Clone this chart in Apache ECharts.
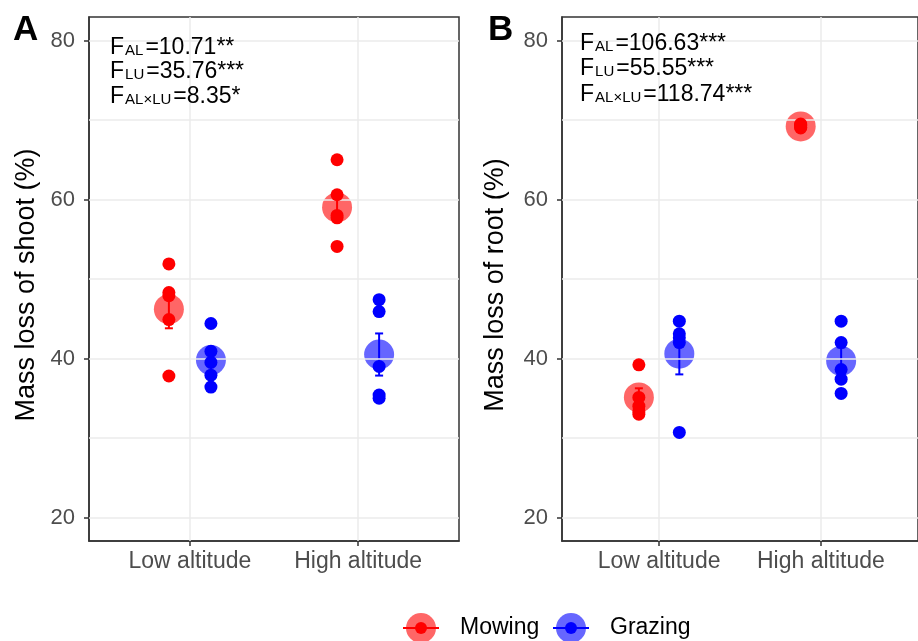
<!DOCTYPE html>
<html>
<head>
<meta charset="utf-8">
<script src="https://cdn.jsdelivr.net/npm/echarts@6/dist/echarts.min.js"></script>
<style>
html,body{margin:0;padding:0;background:#fff;}
#chart{width:918px;height:641px;}
</style>
</head>
<body>
<div id="chart"></div>
<script>
// ---------- data ----------
const categories = ['Low altitude', 'High altitude'];
const groups = ['Mowing', 'Grazing'];
const yTicks = [20, 40, 60, 80];
const yGridValues = [20, 30, 40, 50, 60, 70, 80];

// Panel A: shoot
const shootMowingLow = [51.9, 48.3, 47.9, 44.9, 37.8];
const shootMowingHigh = [65.0, 60.6, 58.0, 57.7, 54.1];
const shootGrazingLow = [44.4, 40.9, 39.5, 37.9, 36.4];
const shootGrazingHigh = [47.4, 45.9, 39.0, 35.4, 35.0];
const shootMowingMean = [46.2, 59.0];
const shootMowingSE = [2.4, 1.8];
const shootGrazingMean = [39.8, 40.5];
const shootGrazingSE = [1.4, 2.65];

// Panel B: root
const rootMowingLow = [39.2, 35.1, 34.0, 33.4, 33.0];
const rootMowingHigh = [69.5, 69.4, 69.3, 69.1, 69.0];
const rootGrazingLow = [44.7, 43.1, 42.6, 42.0, 30.7];
const rootGrazingHigh = [44.7, 42.0, 38.6, 37.4, 35.6];
const rootMowingMean = [35.1, 69.2];
const rootMowingSE = [1.15, 0.15];
const rootGrazingMean = [40.6, 39.7];
const rootGrazingSE = [2.6, 1.7];

// ---------- styling ----------
const FONT = '"Liberation Sans", Arial, sans-serif';
const RED = '#FF0000', BLUE = '#0000FF';
const RED_A = 'rgba(255,0,0,0.6)', BLUE_A = 'rgba(0,0,255,0.6)';
const DODGE = 0.125;

function pts(vals, cat, off) { return vals.map(v => [cat + off, v]); }
function meanPts(means, ses, off) { return means.map((m, i) => [i + 1 + off, m, ses[i]]); }

function errRender(color) {
  return function (params, api) {
    const x = api.value(0), m = api.value(1), s = api.value(2);
    const top = api.coord([x, m + s]);
    const bot = api.coord([x, m - s]);
    const w = 4;
    const st = { stroke: color, lineWidth: 2 };
    return { type: 'group', children: [
      { type: 'line', shape: { x1: top[0], y1: top[1], x2: bot[0], y2: bot[1] }, style: st },
      { type: 'line', shape: { x1: top[0] - w, y1: top[1], x2: top[0] + w, y2: top[1] }, style: st },
      { type: 'line', shape: { x1: bot[0] - w, y1: bot[1], x2: bot[0] + w, y2: bot[1] }, style: st }
    ]};
  };
}

function panelSeries(idx, mLow, mHigh, gLow, gHigh, mMean, mSE, gMean, gSE) {
  const base = { xAxisIndex: idx, yAxisIndex: idx, animation: false, silent: true };
  return [
    Object.assign({}, base, {
      type: 'scatter', data: [], z: 1,
      markLine: {
        silent: true, symbol: ['none', 'none'], animation: false,
        label: { show: false },
        lineStyle: { color: '#EBEBEB', width: 1.5, type: 'solid' },
        data: yGridValues.map(v => ({ yAxis: v })).concat([1, 2].map(v => ({ xAxis: v })))
      }
    }),
    Object.assign({}, base, { type: 'scatter', z: 3, symbolSize: 30, itemStyle: { color: RED_A, opacity: 1 },
      data: meanPts(mMean, mSE, -DODGE) }),
    Object.assign({}, base, { type: 'scatter', z: 3, symbolSize: 30, itemStyle: { color: BLUE_A, opacity: 1 },
      data: meanPts(gMean, gSE, DODGE) }),
    Object.assign({}, base, { type: 'custom', z: 4, renderItem: errRender(RED), encode: { x: 0, y: 1 },
      data: meanPts(mMean, mSE, -DODGE) }),
    Object.assign({}, base, { type: 'custom', z: 4, renderItem: errRender(BLUE), encode: { x: 0, y: 1 },
      data: meanPts(gMean, gSE, DODGE) }),
    Object.assign({}, base, { type: 'scatter', z: 5, symbolSize: 13, itemStyle: { color: RED, opacity: 1 },
      data: pts(mLow, 1, -DODGE).concat(pts(mHigh, 2, -DODGE)) }),
    Object.assign({}, base, { type: 'scatter', z: 5, symbolSize: 13, itemStyle: { color: BLUE, opacity: 1 },
      data: pts(gLow, 1, DODGE).concat(pts(gHigh, 2, DODGE)) })
  ];
}

function xAxisCfg(idx) {
  return {
    type: 'value', gridIndex: idx, min: 0.4, max: 2.6,
    splitLine: { show: false },
    axisLine: { show: true, lineStyle: { color: '#333', width: 1.5 } },
    axisTick: { show: true, length: 5, customValues: [1, 2], lineStyle: { color: '#333', width: 1.5 } },
    axisLabel: { customValues: [1, 2], formatter: v => categories[Math.round(v) - 1],
      color: '#4D4D4D', fontSize: 23, fontFamily: FONT, margin: 9 }
  };
}
function yAxisCfg(idx) {
  return {
    type: 'value', gridIndex: idx, min: 17.04, max: 82.96,
    splitLine: { show: false },
    axisLine: { show: true, lineStyle: { color: '#333', width: 1.5 } },
    axisTick: { show: true, length: 5, customValues: yTicks, lineStyle: { color: '#333', width: 1.5 } },
    axisLabel: { customValues: yTicks, color: '#4D4D4D', fontSize: 22, fontFamily: FONT, margin: 14 }
  };
}

function fText(x, y, sub, rest) {
  return {
    type: 'text', x: x, y: y, silent: true, z: 10,
    style: {
      text: '{f|F}{s|' + sub + '}{f|' + rest + '}',
      verticalAlign: 'middle', align: 'left',
      rich: {
        f: { fontSize: 23, fontFamily: FONT, fill: '#000', verticalAlign: 'bottom' },
        s: { fontSize: 15, fontFamily: FONT, fill: '#000', verticalAlign: 'bottom', padding: [0, 2, 1, 1] }
      }
    }
  };
}

function legendItem(cx, cy, colorA, color, label) {
  return [
    { type: 'circle', z: 10, shape: { cx: cx, cy: cy, r: 15 }, style: { fill: colorA } },
    { type: 'line', z: 10, shape: { x1: cx - 18, y1: cy, x2: cx + 18, y2: cy }, style: { stroke: color, lineWidth: 2 } },
    { type: 'circle', z: 10, shape: { cx: cx, cy: cy, r: 6 }, style: { fill: color } },
    { type: 'text', z: 10, x: cx + 39, y: cy, style: { text: label, fontSize: 23, fontFamily: FONT, fill: '#000',
      verticalAlign: 'middle', align: 'left' } }
  ];
}

const chart = echarts.init(document.getElementById('chart'), null, { renderer: 'canvas' });
chart.setOption({
  backgroundColor: '#fff',
  animation: false,
  grid: [
    { left: 89, top: 17, width: 370, height: 524, show: true, borderColor: '#333', borderWidth: 1.5, backgroundColor: 'transparent' },
    { left: 562, top: 17, width: 371, height: 524, show: true, borderColor: '#333', borderWidth: 1.5, backgroundColor: 'transparent' }
  ],
  xAxis: [xAxisCfg(0), xAxisCfg(1)],
  yAxis: [yAxisCfg(0), yAxisCfg(1)],
  series: panelSeries(0, shootMowingLow, shootMowingHigh, shootGrazingLow, shootGrazingHigh,
                      shootMowingMean, shootMowingSE, shootGrazingMean, shootGrazingSE)
    .concat(panelSeries(1, rootMowingLow, rootMowingHigh, rootGrazingLow, rootGrazingHigh,
                      rootMowingMean, rootMowingSE, rootGrazingMean, rootGrazingSE)),
  graphic: [
    { type: 'text', z: 10, x: 13, y: 30, style: { text: 'A', fontSize: 35, fontWeight: 'bold', fontFamily: FONT, fill: '#000', verticalAlign: 'middle' } },
    { type: 'text', z: 10, x: 488, y: 30, style: { text: 'B', fontSize: 35, fontWeight: 'bold', fontFamily: FONT, fill: '#000', verticalAlign: 'middle' } },
    { type: 'text', z: 10, x: 27, y: 285, rotation: Math.PI / 2,
      style: { text: 'Mass loss of shoot (%)', fontSize: 27, fontFamily: FONT, fill: '#000', align: 'center', verticalAlign: 'middle' } },
    { type: 'text', z: 10, x: 496, y: 285, rotation: Math.PI / 2,
      style: { text: 'Mass loss of root (%)', fontSize: 27, fontFamily: FONT, fill: '#000', align: 'center', verticalAlign: 'middle' } },
    fText(110, 48, 'AL', '=10.71**'),
    fText(110, 72, 'LU', '=35.76***'),
    fText(110, 97, 'AL×LU', '=8.35*'),
    fText(580, 44, 'AL', '=106.63***'),
    fText(580, 69, 'LU', '=55.55***'),
    fText(580, 95, 'AL×LU', '=118.74***')
  ].concat(legendItem(421, 628, RED_A, RED, 'Mowing'))
   .concat(legendItem(571, 628, BLUE_A, BLUE, 'Grazing'))
});
</script>
</body>
</html>
